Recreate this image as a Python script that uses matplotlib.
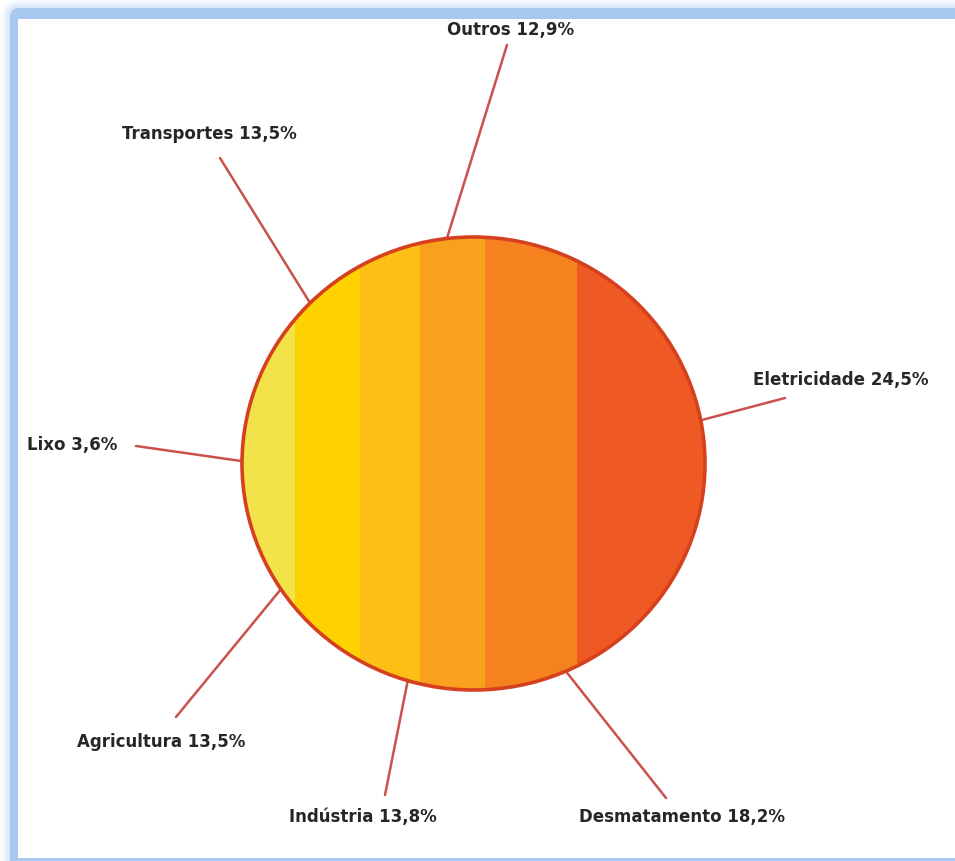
import numpy as np
import matplotlib
matplotlib.use("Agg")
import matplotlib.pyplot as plt
from matplotlib.patches import Ellipse, Rectangle, FancyBboxPatch

# Emissions by sector (%)
setores = ["Outros", "Transportes", "Eletricidade", "Lixo",
           "Agricultura", "Indústria", "Desmatamento"]
valores = [12.9, 13.5, 24.5, 3.6, 13.5, 13.8, 18.2]

# Vertical colour bands of the disc, share of the diameter (%)
faixas = [11.4, 14.0, 13.0, 14.0, 19.9, 27.7]
cores_faixas = ["#F3E24A", "#FED200", "#FDBE16", "#F9A11E", "#F5821F", "#EF5923"]

# Layout (pixels): anchor angle on the disc, end of leader line, label centre
angulos = [96.6, 134.9, 11.0, 179.4, 213.7, 253.5, 293.5]
fim_linha = [(507, 45), (220, 158), (785, 398), (136, 446),
             (176, 717), (385, 795), (666, 798)]
pos_rotulo = [(511, 30), (209, 134), (841, 380), (72, 445),
              (161, 742), (363, 817), (682, 817)]

W, H = 955, 861
cx, cy, rx, ry = 473.5, 463.5, 231.5, 226.5

fig = plt.figure(figsize=(W / 100, H / 100), dpi=100)
ax = fig.add_axes([0, 0, 1, 1])
ax.set_xlim(0, W)
ax.set_ylim(H, 0)
ax.axis("off")

# frame: soft blue glow + solid border
for i, a in enumerate([0.05, 0.08, 0.12, 0.18]):
    g = 9 - 2 * i
    ax.add_patch(FancyBboxPatch((10 - g, 8 - g), W + 40, H + 40,
                                boxstyle="round,pad=0,rounding_size=%d" % (10 + g),
                                facecolor="#A8C8F2", edgecolor="none", alpha=a, zorder=0))
ax.add_patch(FancyBboxPatch((10, 8), W + 40, H + 40,
                            boxstyle="round,pad=0,rounding_size=9",
                            facecolor="#A8C8F2", edgecolor="none", zorder=1))
ax.add_patch(Rectangle((18, 19), W, 839, facecolor="white", edgecolor="none", zorder=2))

# disc with vertical bands
disco = Ellipse((cx, cy), 2 * rx, 2 * ry, facecolor="none", edgecolor="none")
ax.add_patch(disco)
bordas = cx - rx + np.concatenate([[0], np.cumsum(faixas)]) / 100 * 2 * rx
for x0, x1, c in zip(bordas[:-1], bordas[1:], cores_faixas):
    r = Rectangle((x0, cy - ry - 2), x1 - x0 + 0.5, 2 * ry + 4,
                  facecolor=c, edgecolor="none", zorder=3)
    ax.add_patch(r)
    r.set_clip_path(disco)
ax.add_patch(Ellipse((cx, cy), 2 * rx, 2 * ry, facecolor="none",
                     edgecolor="#D5411F", linewidth=2.6, zorder=5))

# leader lines and labels
for nome, v, ang, (ex, ey), (tx, ty) in zip(setores, valores, angulos, fim_linha, pos_rotulo):
    t = np.radians(ang)
    px, py = cx + rx * np.cos(t), cy - ry * np.sin(t)
    ax.plot([px, ex], [py, ey], color="#CA524E", linewidth=1.8,
            solid_capstyle="round", zorder=2.5)
    rotulo = f"{nome} {v:.1f}%".replace(".", ",")
    ax.text(tx, ty, rotulo, ha="center", va="center", fontsize=12,
            fontweight="bold", color="#262626", family="DejaVu Sans", zorder=6)

fig.savefig("out.png", dpi=100)
